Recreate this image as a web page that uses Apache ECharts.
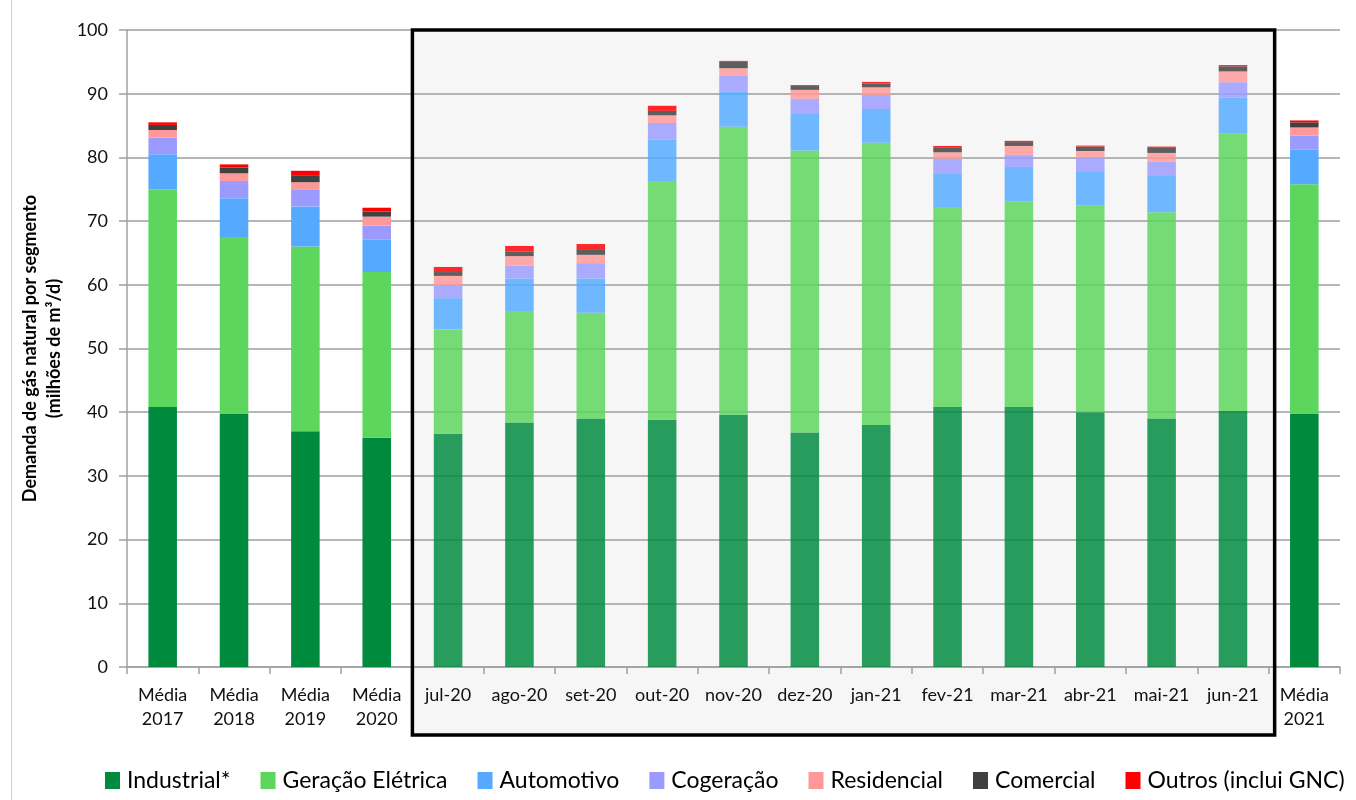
<!DOCTYPE html>
<html><head><meta charset="utf-8">
<script src="https://cdn.jsdelivr.net/npm/echarts@6/dist/echarts.min.js"></script>
<style>html,body{margin:0;padding:0;background:#fff}#c{width:1356px;height:800px}</style>
</head><body><div id="c"></div>
<script>
const categories = ['Média\n2017','Média\n2018','Média\n2019','Média\n2020','jul-20','ago-20','set-20','out-20','nov-20','dez-20','jan-21','fev-21','mar-21','abr-21','mai-21','jun-21','Média\n2021'];
const industrial  = [40.8, 39.8, 37.0, 36.0, 36.6, 38.4, 39.0, 38.8, 39.6, 36.8, 38.0, 40.8, 40.8, 40.0, 39.0, 40.2, 39.8];
const geracao     = [34.2, 27.7, 29.0, 26.0, 16.4, 17.5, 16.6, 37.5, 45.2, 44.3, 44.3, 31.4, 32.3, 32.5, 32.4, 43.5, 36.0];
const automotivo  = [5.5, 6.1, 6.3, 5.1, 4.9, 5.1, 5.4, 6.5, 5.5, 5.7, 5.3, 5.3, 5.4, 5.2, 5.7, 5.7, 5.4];
const cogeracao   = [2.6, 2.7, 2.6, 2.2, 2.0, 2.0, 2.4, 2.6, 2.5, 2.4, 2.2, 2.3, 1.9, 2.2, 2.2, 2.4, 2.2];
const residencial = [1.2, 1.2, 1.2, 1.4, 1.5, 1.5, 1.3, 1.2, 1.2, 1.4, 1.2, 1.0, 1.4, 1.1, 1.4, 1.7, 1.3];
const comercial   = [0.8, 0.9, 1.0, 0.8, 0.6, 0.7, 0.9, 0.7, 1.0, 0.6, 0.6, 0.8, 0.6, 0.7, 0.8, 0.8, 0.8];
const outros      = [0.4, 0.5, 0.8, 0.6, 0.8, 0.9, 0.8, 0.8, 0.15, 0.15, 0.25, 0.2, 0.2, 0.15, 0.2, 0.2, 0.3];
const yTicks = [0,10,20,30,40,50,60,70,80,90,100];

const seriesDefs = [
  ['Industrial*', industrial, '#008a3e'],
  ['Geração Elétrica', geracao, '#5cd65c'],
  ['Automotivo', automotivo, '#55aaff'],
  ['Cogeração', cogeracao, '#9b9bff'],
  ['Residencial', residencial, '#ff9999'],
  ['Comercial', comercial, '#404040'],
  ['Outros (inclui GNC)', outros, '#ff0000']
];
const boxFirst = 4, boxLast = 15;
const FONT = 'Lato, "Open Sans", sans-serif';

const chart = echarts.init(document.getElementById('c'), null, {renderer:'canvas'});
const option = {
  animation: false,
  grid: {left: 127, right: 16, top: 30, bottom: 133, containLabel: false},
  legend: {
    bottom: 3, left: 100, itemGap: 30, itemWidth: 15, itemHeight: 17, icon: 'rect',
    textStyle: {fontFamily: FONT, fontSize: 23, color: '#000', padding: [0,0,0,2]},
    data: seriesDefs.map(d => d[0])
  },
  xAxis: {
    type: 'category', data: categories, boundaryGap: true,
    axisLine: {lineStyle: {color: '#a0a0a0', width: 1.5}},
    axisTick: {show: true, length: 7, lineStyle: {color: '#a0a0a0', width: 1.5}},
    axisLabel: {interval: 0, margin: 16, fontFamily: FONT, fontSize: 18, lineHeight: 24, color: '#111'}
  },
  yAxis: {
    type: 'value', min: yTicks[0], max: yTicks[yTicks.length-1], interval: 10,
    name: 'Demanda de gás natural por segmento\n(milhões de m³/d)',
    nameLocation: 'middle', nameGap: 60, nameRotate: 90,
    nameTextStyle: {fontFamily: FONT, fontWeight: 'bold', fontSize: 18, lineHeight: 24, color: '#000'},
    axisLine: {show: true, lineStyle: {color: '#a0a0a0', width: 1.5}},
    axisTick: {show: true, length: 8, lineStyle: {color: '#a0a0a0', width: 1.5}},
    axisLabel: {margin: 19, fontFamily: FONT, fontSize: 18, color: '#111'},
    splitLine: {show: true, lineStyle: {color: '#9e9e9e', width: 1.5}}
  },
  series: seriesDefs.map(d => ({
    name: d[0], type: 'bar', stack: 'total', barWidth: '40%',
    itemStyle: {color: d[2]},
    data: d[1].map((v, i) => (i >= boxFirst && i <= boxLast) ? {value: v, itemStyle: {opacity: 0.84}} : v)
  }))
};
chart.setOption(option);

const xL = chart.convertToPixel({xAxisIndex: 0}, categories[boxFirst]);
const xN = chart.convertToPixel({xAxisIndex: 0}, categories[boxFirst + 1]);
const xR = chart.convertToPixel({xAxisIndex: 0}, categories[boxLast]);
const cw = xN - xL;
const yTop = chart.convertToPixel({yAxisIndex: 0}, yTicks[yTicks.length-1]);
const yBase = chart.convertToPixel({yAxisIndex: 0}, yTicks[0]);
const bx = xL - cw / 2, bw = (xR + cw / 2 + 6) - bx, by = yTop, bh = yBase + 68 - yTop;
chart.setOption({
  graphic: [
    {type: 'rect', z: -10, silent: true, shape: {x: bx, y: by, width: bw, height: bh}, style: {fill: '#f6f6f6'}},
    {type: 'rect', z: 100, silent: true, shape: {x: bx, y: by, width: bw, height: bh}, style: {fill: 'none', stroke: '#000', lineWidth: 3.5}},
    {type: 'line', z: 100, silent: true, shape: {x1: 11.5, y1: 0, x2: 11.5, y2: 800}, style: {stroke: '#d0d0d0', lineWidth: 1}}
  ]
});
</script>
</body></html>
